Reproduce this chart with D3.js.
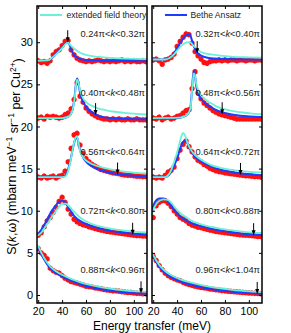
<!DOCTYPE html>
<html><head><meta charset="utf-8">
<script src="https://cdn.jsdelivr.net/npm/d3@7"></script>
<style>body{margin:0;background:#fff}svg{display:block;font-family:Arial,"Liberation Sans",sans-serif}</style>
</head><body>
<script>
// ---------- data ----------
const energies = [20,22.5,25,27.5,30,32.5,35,37.5,40,42.5,45,47.5,50,52.5,55,57.5,60,62.5,65,67.5,70,72.5,75,77.5,80,82.5,85,87.5,90,92.5,95,97.5,100,102.5,105,107.5,110];
const offsets = [28,21,14,7,0];
const xTicks = [20,40,60,80,100];
const yTicks = [0,5,10,15,20,25,30];
const labelsLeft  = [["0.24","0.32"],["0.40","0.48"],["0.56","0.64"],["0.72","0.80"],["0.88","0.96"]];
const labelsRight = [["0.32","0.40"],["0.48","0.56"],["0.64","0.72"],["0.80","0.88"],["0.96","1.04"]];
const errBar = 0.35;

// measured intensity (relative to offset)
const dataL1 = [-0.2,-0.4,-0.3,-0.5,-0.2,0.5,0.9,1.1,1.6,2.1,2.2,1.1,0.5,0.1,-0.1,-0.2,-0.3,-0.2,-0.3,-0.2,-0.1,-0.2,-0.3,-0.2,-0.3,-0.2,-0.3,-0.2,-0.1,-0.3,-0.2,-0.3,-0.2,-0.3,-0.3,-0.2,-0.3];
const dataL2 = [0,0.1,-0.1,0.2,0.1,0.2,0.1,0,0.1,0.4,0.6,1.1,2.2,4.2,2.6,1.9,1.2,0.8,0.5,0.3,0.1,0,-0.1,-0.1,-0.2,-0.1,-0.2,-0.1,-0.2,-0.2,-0.1,-0.2,-0.2,-0.1,-0.2,-0.2,-0.2];
const dataL3 = [0,-0.1,0.1,-0.1,0,0.1,-0.1,0.1,0.2,0.7,1.8,3.4,5.0,5.2,3.8,2.8,2.2,1.8,1.5,1.3,1.1,0.9,0.8,0.7,0.6,0.5,0.45,0.4,0.3,0.25,0.2,0.2,0.15,0.1,0.1,0.05,0.05];
const dataL4 = [0.1,0.4,1.1,1.8,2.2,2.8,3.4,4.1,4.6,4.0,3.2,2.6,2.0,1.7,1.5,1.35,1.25,1.1,1.0,0.9,0.8,0.7,0.65,0.55,0.5,0.45,0.4,0.35,0.3,0.25,0.2,0.15,0.1,0.05,0.05,0,0];
const dataL5 = [5.5,5.0,4.7,4.3,3.2,2.9,2.7,2.6,2.3,2.0,1.8,1.6,1.5,1.4,1.3,1.2,1.05,1.0,0.95,0.85,0.8,0.75,0.65,0.6,0.55,0.5,0.5,0.45,0.4,0.35,0.3,0.3,0.25,0.2,0.2,0.15,0.15];
const dataR1 = [-0.1,0,-0.2,-0.6,-0.1,0,0.2,0.6,1.5,2.1,2.6,3.0,2.9,1.9,0.9,0.4,0,-0.4,-0.5,-0.3,-0.2,-0.2,-0.1,-0.2,-0.1,-0.2,-0.1,-0.1,-0.2,-0.1,-0.1,-0.2,-0.1,-0.1,-0.2,-0.1,-0.1];
const dataR2 = [0,-0.1,0.1,-0.2,0,0.1,-0.1,0,0.2,0.3,0.6,0.9,1.0,3.5,5.5,3.0,2.3,1.8,1.5,1.2,0.9,0.7,0.5,0.4,0.3,0.2,0.1,0,-0.1,-0.1,-0.1,-0.1,-0.1,-0.1,-0.1,-0.1,-0.1];
const dataR3 = [0,-0.1,0,-0.1,0.2,0.6,0.8,1.2,2.2,3.2,3.9,4.3,3.6,3.0,2.4,2.0,1.8,1.5,1.3,1.05,0.9,0.75,0.65,0.6,0.5,0.45,0.4,0.35,0.3,0.25,0.2,0.15,0.15,0.1,0.05,0.05,0];
const dataR4 = [2.2,3.6,4.0,4.2,4.2,3.9,3.5,3.0,2.6,2.2,2.0,1.8,1.5,1.3,1.2,1.05,1.0,0.9,0.8,0.7,0.65,0.55,0.5,0.45,0.4,0.35,0.3,0.25,0.2,0.15,0.12,0.1,0.08,0.05,0,-0.05,-0.05];
const dataR5 = [4.6,4.1,3.5,3.0,2.6,2.3,2.1,1.95,1.8,1.7,1.5,1.35,1.25,1.15,1.05,0.98,0.9,0.85,0.8,0.72,0.68,0.62,0.58,0.52,0.5,0.45,0.42,0.4,0.36,0.33,0.3,0.28,0.25,0.23,0.2,0.18,0.15];

// Bethe Ansatz curves [E, S-offset]
const baL1 = [[19,-0.2],[28,-0.2],[32,0.2],[36,0.8],[40,1.4],[43,1.9],[45,2.0],[46.5,1.6],[48,1.0],[50,0.5],[53,0.15],[57,-0.05],[65,-0.15],[80,-0.2],[111,-0.25]];
const baL2 = [[19,0],[40,0],[44,0.1],[47,0.4],[49,1.2],[50.5,2.6],[51.5,4.0],[52.5,4.7],[53.5,4.3],[55,3.0],[57,2.1],[60,1.35],[63,0.9],[67,0.5],[72,0.2],[80,0],[95,-0.1],[111,-0.15]];
const baL3 = [[19,0],[40,0],[43,0.2],[45,0.9],[47,2.0],[49,3.4],[51,4.5],[52.2,4.8],[53.5,4.2],[55,3.2],[57,2.5],[59,2.0],[63,1.45],[67.5,1.05],[76,0.65],[84,0.4],[92,0.25],[100,0.15],[111,0.05]];
const baL4 = [[19,0.1],[22,0.6],[25,1.3],[28,2.1],[31,2.9],[34,3.5],[37,4.0],[40,4.2],[42,4.1],[44,3.7],[47,3.0],[50,2.4],[55,1.8],[59,1.5],[67.5,1.05],[76,0.75],[84,0.52],[92,0.38],[100,0.28],[111,0.18]];
const baL5 = [[19,5.8],[21,5.3],[23,4.7],[25,4.2],[27,3.75],[30,3.2],[34,2.7],[38,2.35],[43,2.0],[47,1.75],[51,1.5],[59,1.1],[67.5,0.82],[76,0.6],[84,0.45],[92,0.33],[100,0.24],[111,0.15]];
const baR1 = [[19,-0.05],[30,-0.05],[34,0.2],[37,0.6],[40,1.3],[43,2.0],[46,2.6],[48.5,2.9],[50.5,2.9],[52.5,2.2],[54,1.5],[56,0.9],[59,0.5],[63,0.25],[68,0.1],[80,0],[111,-0.05]];
const baR2 = [[19,0],[42,0.05],[46,0.2],[49,0.5],[51,1.2],[52,2.5],[53,4.5],[54,5.6],[55,5.0],[56,3.8],[58,2.8],[60,2.3],[63.7,1.74],[67.9,1.34],[72,1.0],[76.3,0.75],[84.6,0.45],[93,0.28],[101,0.2],[111,0.12]];
const baR3 = [[19,0],[30,0],[32,0.1],[35,0.6],[37,1.2],[40,2.2],[42,3.1],[44,3.9],[46,4.3],[47.5,4.3],[49.8,3.6],[52,3.0],[54,2.6],[57,2.2],[59.5,1.9],[63.7,1.6],[68,1.3],[76,0.9],[84.6,0.63],[93,0.43],[101,0.32],[111,0.2]];
const baR4 = [[19,3.1],[21,3.9],[23,4.3],[25,4.45],[28,4.45],[31,4.3],[33,4.0],[35,3.6],[38.7,2.9],[42.8,2.3],[47,1.9],[51,1.6],[59.5,1.2],[68,0.9],[76,0.67],[84.6,0.47],[93,0.3],[101,0.2],[111,0.12]];
const baR5 = [[19,4.9],[21,4.3],[23,3.8],[26,3.2],[30,2.6],[34.5,2.15],[38.7,1.85],[42.8,1.6],[51,1.25],[59.5,0.95],[68,0.72],[76,0.55],[84.6,0.42],[93,0.32],[101,0.24],[111,0.16]];

// extended field theory curves [E, S-offset]
const eftL1 = [[19,-0.2],[28,-0.15],[32,0.2],[36,0.7],[40,1.3],[43,1.8],[45,1.95],[47,1.65],[50,1.25],[55,0.75],[60,0.5],[70,0.25],[80,0.15],[95,0.05],[111,0]];
const eftL2 = [[19,0],[40,0],[44,0.1],[47,0.4],[49,1.1],[50.5,2.4],[51.5,3.8],[52.5,4.55],[53.5,4.3],[55,3.3],[57,2.5],[60,1.9],[65,1.45],[70,1.15],[76,0.95],[84,0.75],[92,0.62],[100,0.52],[111,0.42]];
const eftL3 = [[19,0],[40,0],[43,0.1],[45,0.7],[47,1.9],[49,3.4],[51,4.6],[52.2,4.85],[53.5,4.3],[55,3.1],[57,2.5],[59,2.1],[63,1.7],[67.5,1.4],[76,1.05],[84,0.82],[92,0.65],[100,0.52],[111,0.42]];
const eftL4 = [[19,0],[22,0.3],[25,0.9],[28,1.5],[31,2.2],[34,2.8],[37,3.4],[40,3.8],[43,3.85],[46,3.5],[50,2.9],[55,2.2],[60,1.75],[67.5,1.3],[76,1.0],[84,0.8],[92,0.65],[100,0.52],[111,0.42]];
const eftL5 = [[19,6.0],[21,5.5],[23,4.9],[25,4.4],[27,3.95],[30,3.4],[34,2.9],[38,2.55],[43,2.2],[47,1.95],[51,1.72],[59,1.35],[67.5,1.07],[76,0.85],[84,0.68],[92,0.55],[100,0.45],[111,0.36]];
const eftR1 = [[19,-0.05],[30,-0.05],[34,0.15],[37,0.5],[40,1.0],[43,1.5],[46,1.85],[49,2.0],[51,2.0],[53,1.7],[55.4,1.35],[59.5,0.87],[64,0.65],[68,0.55],[76,0.4],[85,0.28],[100,0.2],[111,0.16]];
const eftR2 = [[19,0],[42,0.05],[46,0.2],[49,0.5],[51,1.1],[52,2.3],[53,4.2],[54,5.3],[55,5.0],[56,4.1],[58,3.2],[60,2.7],[63.7,2.2],[67.9,1.8],[72,1.45],[76.3,1.2],[84.6,0.87],[93,0.7],[101,0.55],[111,0.45]];
const eftR3 = [[19,0],[30,0],[32,0.15],[35,0.8],[37,1.6],[40,2.9],[42,4.0],[44,5.0],[45,5.25],[46.5,5.0],[48.5,4.1],[50.5,3.5],[52.6,3.0],[56,2.5],[59.5,2.1],[63.7,1.75],[68,1.45],[76,1.1],[84.6,0.87],[93,0.71],[101,0.62],[111,0.55]];
const eftR4 = [[19,2.6],[21,3.4],[23,3.9],[26,4.25],[29,4.35],[32,4.3],[34,4.1],[36,3.8],[38.7,3.3],[42.8,2.7],[47,2.3],[51,1.9],[59.5,1.4],[68,1.1],[76,0.87],[84.6,0.7],[93,0.55],[101,0.43],[111,0.36]];
const eftR5 = [[19,5.0],[21,4.5],[23,4.0],[26,3.4],[30,2.85],[34.5,2.4],[38.7,2.1],[42.8,1.85],[51,1.5],[59.5,1.2],[68,0.97],[76,0.8],[84.6,0.65],[93,0.52],[101,0.42],[111,0.34]];

// arrows: energy and tip value (relative to offset)
const arrowLeftE   = [44.7, 68, 86.4, 99, 106];
const arrowLeftTip = [2.0, 0.35, 0.3, 0.15, 0.2];
const arrowRightE   = [56.8, 77.7, 93, 104, 107];
const arrowRightTip = [0.7, 0.45, 0.25, 0.1, 0.12];

// ---------- drawing ----------
const W = 291, H = 333;
const yTop = 6, yBot = 303;
const svg = d3.select("body").append("svg").attr("width", W).attr("height", H);
const y = d3.scaleLinear().domain([-0.95, 34.3]).range([yBot, yTop]);

const RED = "#ff1010", BLUE = "#1c3cff", CYAN = "#6cf0d6";

const panels = [
  {x0: 37, x1: 147, data:[dataL1,dataL2,dataL3,dataL4,dataL5], ba:[baL1,baL2,baL3,baL4,baL5], eft:[eftL1,eftL2,eftL3,eftL4,eftL5], labels: labelsLeft, aE: arrowLeftE, aT: arrowLeftTip, legend: {text:"extended field theory", color: CYAN}, yLabels: true},
  {x0: 152, x1: 262, data:[dataR1,dataR2,dataR3,dataR4,dataR5], ba:[baR1,baR2,baR3,baR4,baR5], eft:[eftR1,eftR2,eftR3,eftR4,eftR5], labels: labelsRight, aE: arrowRightE, aT: arrowRightTip, legend: {text:"Bethe Ansatz", color: BLUE}, yLabels: false}
];

panels.forEach((p, pi) => {
  const x = d3.scaleLinear().domain([19, 111]).range([p.x0, p.x1]);
  const clipId = "clip" + pi;
  svg.append("clipPath").attr("id", clipId).append("rect")
    .attr("x", p.x0).attr("y", yTop).attr("width", p.x1 - p.x0).attr("height", yBot - yTop);
  const g = svg.append("g").attr("clip-path", `url(#${clipId})`);

  p.data.forEach((vals, i) => {
    const off = offsets[i];
    const pts = energies.map((e, j) => [e, vals[j] + off]);
    g.append("g").selectAll("line").data(pts).join("line")
      .attr("x1", d => x(d[0])).attr("x2", d => x(d[0]))
      .attr("y1", d => y(d[1] - errBar)).attr("y2", d => y(d[1] + errBar))
      .attr("stroke", "#ff8080").attr("stroke-width", 1.2);
    g.append("g").selectAll("circle").data(pts).join("circle")
      .attr("cx", d => x(d[0])).attr("cy", d => y(d[1])).attr("r", 2.6)
      .attr("fill", RED);
  });
  const line = d3.line().x(d => x(d[0])).y(d => y(d[1])).curve(d3.curveMonotoneX);
  p.ba.forEach((c, i) => {
    g.append("path").datum(c.map(d => [d[0], d[1] + offsets[i]])).attr("d", line)
      .attr("fill", "none").attr("stroke", BLUE).attr("stroke-width", 2);
  });
  p.eft.forEach((c, i) => {
    g.append("path").datum(c.map(d => [d[0], d[1] + offsets[i]])).attr("d", line)
      .attr("fill", "none").attr("stroke", CYAN).attr("stroke-width", 1.8);
  });

  // arrows
  p.aE.forEach((e, i) => {
    const tx = x(e), ty = y(p.aT[i] + offsets[i]);
    svg.append("line").attr("x1", tx).attr("x2", tx).attr("y1", ty - 12).attr("y2", ty - 3)
      .attr("stroke", "#000").attr("stroke-width", 1);
    svg.append("path").attr("d", `M${tx - 2},${ty - 5}L${tx + 2},${ty - 5}L${tx},${ty}Z`).attr("fill", "#000");
  });

  // k-range labels
  p.labels.forEach((lb, i) => {
    const t = svg.append("text").attr("x", p.x1 - 2).attr("y", y(offsets[i] + 3.0))
      .attr("dy", "0.35em").attr("text-anchor", "end").attr("font-size", 9.3).attr("fill", "#222");
    t.append("tspan").text(lb[0] + "π<");
    t.append("tspan").attr("font-style", "italic").text("k");
    t.append("tspan").text("<" + lb[1] + "π");
  });

  // legend
  svg.append("line").attr("x1", p.x0 + (pi ? 13 : 3)).attr("x2", p.x0 + (pi ? 35 : 25)).attr("y1", 15).attr("y2", 15)
    .attr("stroke", p.legend.color).attr("stroke-width", 2);
  svg.append("text").attr("x", p.x0 + (pi ? 38.5 : 29.5)).attr("y", 15).attr("dy", "0.35em")
    .attr("font-size", 8.6).attr("fill", "#222").text(p.legend.text);

  // frame + ticks
  svg.append("rect").attr("x", p.x0).attr("y", yTop).attr("width", p.x1 - p.x0).attr("height", yBot - yTop)
    .attr("fill", "none").attr("stroke", "#000").attr("stroke-width", 1.5);
  const axB = d3.axisBottom(x).tickValues(xTicks).tickSizeInner(-3).tickSizeOuter(0).tickPadding(5);
  const gb = svg.append("g").attr("transform", `translate(0,${yBot})`).call(axB);
  gb.select(".domain").remove();
  gb.selectAll("text").attr("font-size", 10.5).attr("fill", "#000").attr("font-family", "Arial, 'Liberation Sans', sans-serif");
  const axT = d3.axisTop(x).tickValues(xTicks).tickSizeInner(-3).tickSizeOuter(0).tickFormat("");
  svg.append("g").attr("transform", `translate(0,${yTop})`).call(axT).select(".domain").remove();
  const axL = d3.axisLeft(y).tickValues(yTicks).tickSizeInner(-3).tickSizeOuter(0).tickPadding(4);
  if (!p.yLabels) axL.tickFormat("");
  const gl = svg.append("g").attr("transform", `translate(${p.x0},0)`).call(axL);
  gl.select(".domain").remove();
  gl.selectAll("text").attr("font-size", 11).attr("fill", "#000").attr("font-family", "Arial, 'Liberation Sans', sans-serif");
  const axR = d3.axisRight(y).tickValues(yTicks).tickSizeInner(-3).tickSizeOuter(0).tickFormat("");
  svg.append("g").attr("transform", `translate(${p.x1},0)`).call(axR).select(".domain").remove();
  svg.selectAll(".tick line").attr("stroke", "#000").attr("stroke-width", 1);
});

// axis titles
svg.append("text").attr("x", 152).attr("y", 330).attr("text-anchor", "middle")
  .attr("font-size", 12).attr("fill", "#000").text("Energy transfer (meV)");
const yl = svg.append("text").attr("transform", `translate(12,${(yTop + yBot) / 2 + 2}) rotate(-90)`)
  .attr("text-anchor", "middle").attr("dy", "0.35em").attr("font-size", 12.5).attr("fill", "#000");
yl.append("tspan").text("S(");
yl.append("tspan").attr("font-style", "italic").text("k");
yl.append("tspan").text(",ω) (mbarn meV");
yl.append("tspan").attr("font-size", 8.5).attr("dy", "-0.5em").text("−1");
yl.append("tspan").attr("dy", "0.5em").text(" sr");
yl.append("tspan").attr("font-size", 8.5).attr("dy", "-0.5em").text("−1");
yl.append("tspan").attr("dy", "0.5em").text(" per Cu");
yl.append("tspan").attr("font-size", 8.5).attr("dy", "-0.5em").text("2+");
yl.append("tspan").attr("dy", "0.5em").text(")");
</script>
</body></html>
